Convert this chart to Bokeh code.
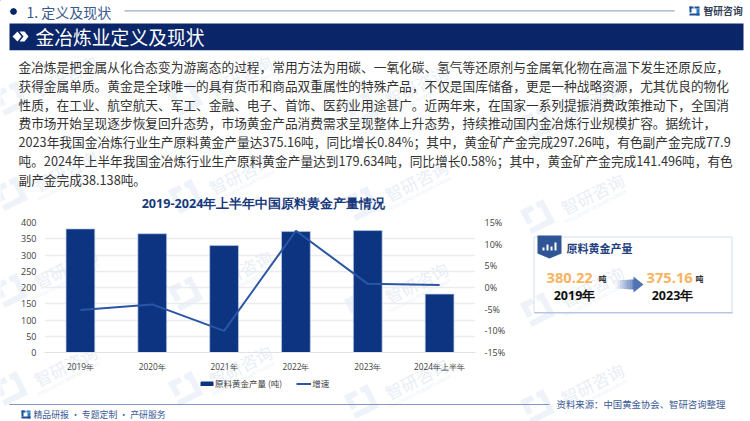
import math
from bokeh.plotting import figure
from bokeh.models import Label, BoxAnnotation, PolyAnnotation, Range1d, LinearAxis, Legend, LegendItem, CustomJSTickFormatter
from bokeh.embed import file_html
from bokeh.resources import INLINE

CJK = "Noto Sans CJK SC"
LAT = "Open Sans"

categories = ["2019年", "2020年", "2021年", "2022年", "2023年", "2024年上半年"]
output_t = [380.22, 365.34, 328.98, 372.05, 375.16, 179.634]
growth_pct = [-5.2, -3.9, -10.0, 13.1, 0.84, 0.58]
body_lines = [
    "金冶炼是把金属从化合态变为游离态的过程，常用方法为用碳、一氧化碳、氢气等还原剂与金属氧化物在高温下发生还原反应，",
    "获得金属单质。黄金是全球唯一的具有货币和商品双重属性的特殊产品，不仅是国库储备，更是一种战略资源，尤其优良的物化",
    "性质，在工业、航空航天、军工、金融、电子、首饰、医药业用途甚广。近两年来，在国家一系列提振消费政策推动下，全国消",
    "费市场开始呈现逐步恢复回升态势，市场黄金产品消费需求呈现整体上升态势，持续推动国内金冶炼行业规模扩容。据统计，",
    "2023年我国金冶炼行业生产原料黄金产量达375.16吨，同比增长0.84%；其中，黄金矿产金完成297.26吨，有色副产金完成77.9",
    "吨。2024年上半年我国金冶炼行业生产原料黄金产量达到179.634吨，同比增长0.58%；其中，黄金矿产金完成141.496吨，有色",
    "副产金完成38.138吨。",
]

W, H = 750, 421
NAVY = "#0a2668"
BAR = "#0c3481"
LINE = "#2a56a5"
ABS = {"position": "absolute", "left": "0px", "top": "0px"}

# backdrop: whole page, page-pixel coordinates
b = figure(width=W, height=H, x_range=Range1d(0, W), y_range=Range1d(H, 0),
           output_backend="svg", toolbar_location=None, min_border=0, outline_line_color=None,
           x_axis_location=None, y_axis_location=None, margin=(0, 0, 0, 0), styles=ABS)
b.xgrid.visible = False
b.ygrid.visible = False

# chart on top
p = figure(width=W, height=H, x_range=categories, y_range=Range1d(0, 400),
           output_backend="svg", toolbar_location=None,
           min_border_left=44, min_border_right=W - 475,
           min_border_top=222, min_border_bottom=H - 352,
           outline_line_color=None, border_fill_alpha=0, background_fill_alpha=0,
           margin=(0, 0, 0, 0), styles=ABS)
p.xgrid.visible = False
p.ygrid.grid_line_color = "#ececf0"
p.ygrid.grid_line_width = 1.5
p.yaxis.ticker = [0, 50, 100, 150, 200, 250, 300, 350, 400]
for ax in (p.xaxis[0], p.yaxis[0]):
    ax.axis_line_color = None
    ax.major_tick_line_color = None
    ax.minor_tick_line_color = None
    ax.major_tick_out = 0
    ax.major_label_text_font = LAT
    ax.major_label_text_font_size = "9px"
    ax.major_label_text_color = "#404040"
p.xaxis[0].axis_line_color = "#e2e2e6"
p.xaxis[0].major_label_text_font_size = "8.3px"
p.yaxis[0].major_label_standoff = 8
p.xaxis[0].major_label_standoff = 8

p.extra_y_ranges = {"pct": Range1d(-15, 15)}
r_ax = LinearAxis(y_range_name="pct", ticker=[-15, -10, -5, 0, 5, 10, 15],
                  formatter=CustomJSTickFormatter(code="return tick + '%';"),
                  axis_line_color=None, major_tick_line_color=None, minor_tick_line_color=None, major_tick_out=0,
                  major_label_text_font=LAT, major_label_text_font_size="9px",
                  major_label_text_color="#404040", major_label_standoff=9)
p.add_layout(r_ax, "right")

p.vbar(x=categories, top=output_t, width=0.4, fill_color=BAR, line_color="#b9c8e6", line_width=0.7)
p.line(x=categories, y=growth_pct, y_range_name="pct", line_color=LINE, line_width=2)

# legend lives on the page-wide backdrop so it is free of the chart frame;
# its two key renderers sit off the page and only supply the swatches
k_bar = b.vbar(x=[-50], top=[-50], width=1, fill_color=BAR, line_color=BAR)
k_line = b.line(x=[-50, -40], y=[-50, -50], line_color=LINE, line_width=2)
leg = Legend(items=[LegendItem(label="原料黄金产量 (吨)", renderers=[k_bar]), LegendItem(label="增速", renderers=[k_line])],
             orientation="horizontal", location=(199, 32), background_fill_alpha=0, border_line_color=None,
             label_text_font=CJK, label_text_font_size="8.5px", label_text_color="#404040",
             glyph_width=15, glyph_height=5, spacing=14, label_standoff=1, padding=0, margin=0)
b.add_layout(leg)


def text(x, y, s, size, color, font=CJK, style="normal", align="left", angle=0, alpha=1.0):
    b.add_layout(Label(x=x, y=y, text=s, text_font=font, text_font_size=f"{size}px", text_color=color,
                       text_font_style=style, text_align=align, text_baseline="middle",
                       angle=angle, angle_units="deg", text_alpha=alpha, level="overlay"))


def box(x0, y0, x1, y1, color, alpha=1.0, line=None):
    b.add_layout(BoxAnnotation(left=x0, right=x1, top=y0, bottom=y1, fill_color=color, fill_alpha=alpha,
                               line_color=line, level="overlay"))


def poly(pts, color, alpha=1.0):
    b.add_layout(PolyAnnotation(xs=[a for a, _ in pts], ys=[c for _, c in pts], fill_color=color,
                                fill_alpha=alpha, line_color=None, level="overlay"))


def wm_logo(cx, cy):
    rad = math.radians(-27)
    def rot(u, v):
        return (cx + u * math.cos(rad) - v * math.sin(rad), cy + u * math.sin(rad) + v * math.cos(rad))
    for (u0, v0, u1, v1) in [(-13, -13, 0, -7), (-13, -13, -7, 3), (4, -13, 13, -7), (7, -7, 13, 13), (-13, 7, 13, 13)]:
        poly([rot(u0, v0), rot(u1, v0), rot(u1, v1), rot(u0, v1)], "#eef3f9")


# watermarks
for wx, ys in [(65, (75, 170, 267, 365)), (240, (75, 173, 270, 365)), (416, (85, 180, 282, 378)), (592, (100, 193, 286, 383))]:
    for wy in ys:
        wm_logo(wx - 55, wy + 23)
        text(wx, wy, "智研咨询", 17, "#e9eef6", angle=27, align="center")
        text(wx + 3, wy + 13, "INTELLIGENCE RESEARCH GROUP", 4.5, "#eaeff6", font=LAT, angle=27, align="center")

# header
poly([(9.5, 11), (10.5, 8.5), (13, 7.5), (15.5, 8.5), (16.5, 11), (15.5, 13.5), (13, 14.5), (10.5, 13.5)], NAVY)
text(26, 11.5, "1. 定义及现状", 14, "#3a5a8c")
box(124, 9.7, 674, 11, "#9aaacf")
text(703, 10, "智研咨询", 9.8, "#333f55", style="bold")
box(689, 6, 693, 8, "#1f4e96"); box(689, 6, 691, 12, "#1f4e96"); box(694, 6, 699, 8, "#1f4e96")
box(696, 8, 699, 15, "#2a7fc0"); box(689, 13, 699, 15, "#1f4e96")

# title bar
box(9, 23, 743, 49.5, NAVY)
box(9, 49.5, 743, 50.5, "#b9c6df")
poly([(12, 36), (17, 31), (21, 36), (17, 41)], "white")
poly([(19, 31), (24, 31), (28, 36), (24, 41), (19, 41), (23, 36)], "white")
text(35, 36, "金冶炼业定义及现状", 18.8, "white")

# body
for i, line in enumerate(body_lines):
    text(18, 66 + i * 18.8, line, 12.7, "#333333")

# chart title
text(263, 202.5, "2019-2024年上半年中国原料黄金产量情况", 12.6, "#17397c", style="bold", align="center", font=LAT)

# panel
box(533.5, 236.5, 731.5, 312, "white", alpha=0, line="#6c8cc6")
box(534, 311.5, 732, 313, "#b7c6e4")
poly([(537, 235), (561, 235), (561, 253), (549, 258), (537, 253)], "#2f5597")
box(542, 247, 544, 250, "white"); box(546, 244, 548, 250, "white"); box(550, 246, 552, 250, "white"); box(554, 242, 556, 250, "white")
text(566, 247, "原料黄金产量", 11, "#1f3f7f", style="bold")
text(546, 277, "380.22", 14.7, "#f8b462", font=LAT, style="bold")
text(598, 278, "吨", 8, "#333333", style="bold")
text(646, 277, "375.16", 14.7, "#f8b462", font=LAT, style="bold")
text(695, 278, "吨", 8, "#333333", style="bold")
text(574, 295, "2019年", 12.5, "#111111", font=LAT, style="bold", align="center")
text(672, 295, "2023年", 12.5, "#111111", font=LAT, style="bold", align="center")
for k in range(8):
    x0 = 615 + k * 2.3
    poly([(x0, 280 - k * 0.15), (x0 + 2.4, 280 - k * 0.15), (x0 + 2.4, 288 + k * 0.15), (x0, 288 + k * 0.15)], "#4f74b3", alpha=0.08 + k * 0.11)
poly([(633, 279), (633, 276), (643, 284), (633, 292), (633, 289)], "#4f74b3")

# footer
box(9, 403.5, 549, 404.5, "#8497c0")
text(33, 414, "精品研报 · 专题定制 · 产研服务", 8.9, "#3b5a94")
box(21, 410, 25, 412, "#1f4e96"); box(21, 410, 23, 416, "#1f4e96"); box(26, 410, 30, 412, "#2a7fc0"); box(27, 412, 30, 418, "#2a7fc0"); box(21, 416, 30, 418, "#1f4e96")
text(556, 403, "资料来源：中国黄金协会、智研咨询整理", 9.4, "#3b5a94")

open("out.html", "w").write(file_html([b, p], INLINE))
